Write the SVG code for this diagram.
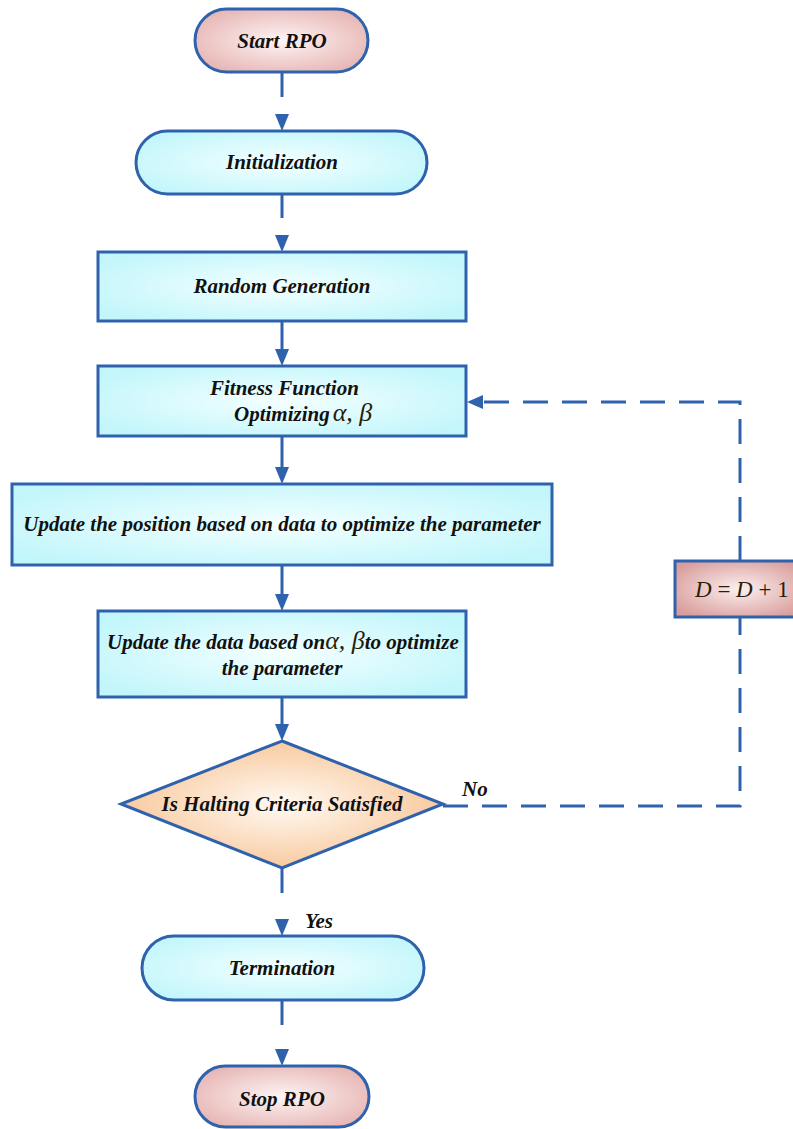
<svg xmlns="http://www.w3.org/2000/svg" width="793" height="1129" viewBox="0 0 793 1129">
<defs>
<radialGradient id="gc" cx="50%" cy="50%" r="60%"><stop offset="0" stop-color="#f4ffff"/><stop offset="1" stop-color="#c2f6fb"/></radialGradient>
<radialGradient id="gp" cx="50%" cy="50%" r="60%"><stop offset="0" stop-color="#fdf5f5"/><stop offset="1" stop-color="#e6b4b2"/></radialGradient>
<radialGradient id="go" cx="50%" cy="50%" r="55%"><stop offset="0" stop-color="#fffaf4"/><stop offset="1" stop-color="#f8c596"/></radialGradient>
<radialGradient id="gd" cx="50%" cy="50%" r="60%"><stop offset="0" stop-color="#fbf0f0"/><stop offset="1" stop-color="#d99d9b"/></radialGradient>
<style>
.n{stroke:#2e62ad;stroke-width:3}
.t{font-family:"Liberation Serif",serif;font-weight:bold;font-style:italic;font-size:21px;fill:#111}
.m{font-family:"Liberation Serif",serif;font-style:italic;font-size:23px;fill:#2a1d08;font-weight:normal}
.g{font-size:26px}
.c{stroke:#2e62ad;stroke-width:3;fill:none}
.d{stroke-dasharray:25,14}
.a{fill:#2e62ad;stroke:none}
</style>
</defs>
<g id="connectors">
<line class="c" x1="282" y1="72" x2="282" y2="97"/><polygon class="a" points="275,114 289,114 282,131"/>
<line class="c" x1="282" y1="194" x2="282" y2="218"/><polygon class="a" points="275,235 289,235 282,252"/>
<line class="c" x1="282" y1="321" x2="282" y2="350"/><polygon class="a" points="275,349 289,349 282,366"/>
<line class="c" x1="282" y1="436" x2="282" y2="468"/><polygon class="a" points="275,467 289,467 282,484"/>
<line class="c" x1="282" y1="565" x2="282" y2="595"/><polygon class="a" points="275,594 289,594 282,611"/>
<line class="c" x1="282" y1="697" x2="282" y2="725"/><polygon class="a" points="275,724 289,724 282,741"/>
<line class="c" x1="282" y1="868" x2="282" y2="893"/><polygon class="a" points="275,919 289,919 282,936"/>
<line class="c" x1="282" y1="1000" x2="282" y2="1025"/><polygon class="a" points="275,1049 289,1049 282,1066"/>
<polyline class="c d" points="443,806 740,806 740,617"/>
<polyline class="c d" points="740,561 740,402 483,402"/>
<polygon class="a" points="483,395 483,409 467,402"/>
</g>
<g id="start"><rect class="n" x="195" y="9" width="173" height="63" rx="31.5" fill="url(#gp)"/><text class="t" x="282" y="48" text-anchor="middle">Start RPO</text></g>
<g id="init"><rect class="n" x="136" y="131" width="291" height="63" rx="31.5" fill="url(#gc)"/><text class="t" x="282" y="169" text-anchor="middle">Initialization</text></g>
<g id="random"><rect class="n" x="98" y="252" width="368" height="69" fill="url(#gc)"/><text class="t" x="282" y="293" text-anchor="middle">Random Generation</text></g>
<g id="fitness"><rect class="n" x="98" y="366" width="368" height="70" fill="url(#gc)"/><text class="t" x="210" y="395">Fitness Function</text><text class="t" x="234" y="421">Optimizing<tspan class="m g" dx="3">α, β</tspan></text></g>
<g id="updatepos"><rect class="n" x="12" y="484" width="540" height="81" fill="url(#gc)"/><text class="t" x="282" y="531" text-anchor="middle">Update the position based on data to optimize the parameter</text></g>
<g id="updatedata"><rect class="n" x="98" y="611" width="368" height="86" fill="url(#gc)"/><text class="t" x="107" y="649">Update the data based on<tspan class="m g">α, β</tspan>to optimize</text><text class="t" x="282" y="675" text-anchor="middle">the parameter</text></g>
<g id="halt"><polygon class="n" points="282,741 443,804 282,868 121,804" fill="url(#go)"/><text class="t" x="282" y="811" text-anchor="middle">Is Halting Criteria Satisfied</text></g>
<g id="term"><rect class="n" x="142" y="936" width="282" height="64" rx="32" fill="url(#gc)"/><text class="t" x="282" y="975" text-anchor="middle">Termination</text></g>
<g id="stop"><rect class="n" x="195" y="1066" width="174" height="61" rx="30.5" fill="url(#gp)"/><text class="t" x="282" y="1106" text-anchor="middle">Stop RPO</text></g>
<g id="dinc"><rect class="n" x="675" y="561" width="130" height="56" fill="url(#gd)"/><text class="m" x="695" y="597">D <tspan font-style="normal">=</tspan> D <tspan font-style="normal">+ 1</tspan></text></g>
<text class="t" x="462" y="796">No</text>
<text class="t" x="305" y="928">Yes</text>
</svg>
